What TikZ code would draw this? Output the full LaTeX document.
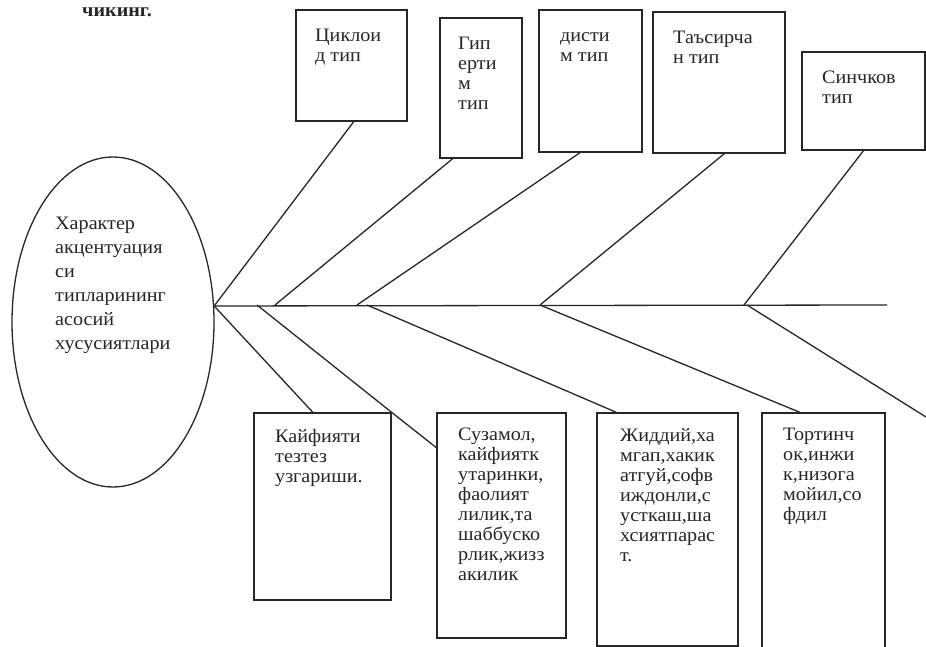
\documentclass[tikz,border=0pt]{standalone}
\usepackage{fontspec}
\setmainfont{Liberation Serif}
\newfontfamily\boxfont[FakeStretch=1.06]{Liberation Serif}
\usetikzlibrary{shapes.geometric,calc}
\begin{document}
\begin{tikzpicture}[x=1pt,y=-1pt,
  ln/.style={draw=black!85,line width=1.3pt},
  box/.style={ln,rectangle,inner sep=0pt},
  txt/.style={anchor=north west,inner sep=0pt,align=left,text=black!85,
    font=\boxfont\fontsize{19}{20}\selectfont},
  etxt/.style={anchor=north west,inner sep=0pt,align=left,text=black!85,
    font=\boxfont\fontsize{19}{24}\selectfont}]
\useasboundingbox (0,0) rectangle (926,647);
\fill[white] (0,0) rectangle (926,647);

% heading fragment
\node[anchor=north west,inner sep=0pt,text=black!85,font=\boxfont\bfseries\fontsize{19}{20}\selectfont] (head) at (82,8) {чикинг.};

% ellipse
\node[ln,ellipse,minimum width=202,minimum height=330,inner sep=0pt] (el) at (113,322) {};
\node[etxt] (elt) at (55,217) {Характер\\акцентуация\\си\\типларининг\\асосий\\хусусиятлари};

% top boxes
\node[box,minimum width=111,minimum height=111] (c1) at (351.5,65.5) {};
\node[box,minimum width=82,minimum height=140] (c2) at (481,88) {};
\node[box,minimum width=103,minimum height=142] (c3) at (590.5,81) {};
\node[box,minimum width=132,minimum height=141] (c4) at (719,82.5) {};
\node[box,minimum width=123,minimum height=98] (c5) at (863.5,101) {};
\node[txt] (c1t) at (315,29) {Циклои\\д тип};
\node[txt] (c2t) at (458,37) {Гип\\ерти\\м\\тип};
\node[txt] (c3t) at (560,32) {дисти\\м тип};
\node[txt] (c4t) at (673,31) {Таъсирча\\н тип};
\node[txt] (c5t) at (822,71) {Синчков\\тип};

% bottom boxes
\node[box,minimum width=137,minimum height=187] (b1) at (322.5,506.5) {};
\node[box,minimum width=129,minimum height=225] (b2) at (501.5,525.5) {};
\node[box,minimum width=141,minimum height=233] (b3) at (667.5,529.5) {};
\node[box,minimum width=123,minimum height=254] (b4) at (823.5,540) {};
\node[txt] (b1t) at (275,429) {Кайфияти\\тезтез\\узгариши.};
\node[txt] (b2t) at (458,428) {Сузамол,\\кайфиятк\\утаринки,\\фаолият\\лилик,та\\шаббуско\\рлик,жизз\\акилик};
\node[txt] (b3t) at (620,428) {Жиддий,ха\\мгап,хакик\\атгуй,софв\\иждонли,с\\усткаш,ша\\хсиятпарас\\т.};
\node[txt] (b4t) at (783,428) {Тортинч\\ок,инжи\\к,низога\\мойил,со\\фдил};

% spine
\coordinate (s0) at (el.9.6);
\coordinate (s1) at (257,305);
\coordinate (s2) at (275,305);
\coordinate (s3) at (357,305);
\coordinate (s4) at (367,305);
\coordinate (s5) at (540,305);
\coordinate (s6) at (744,305);
\coordinate (s7) at (747,305);
\coordinate (send) at (887,305);
\coordinate (eend) at (926,417);
\draw[ln] (s0) -- (send);

% upper branches
\draw[ln] (s0) -- ($(c1.south west)!0.52!(c1.south east)$);
\draw[ln] (s2) -- ($(c2.south west)!0.16!(c2.south east)$);
\draw[ln] (s3) -- ($(c3.south west)!0.40!(c3.south east)$);
\draw[ln] (s5) -- ($(c4.south west)!0.54!(c4.south east)$);
\draw[ln] (s6) -- ($(c5.south west)!0.50!(c5.south east)$);

% lower branches
\draw[ln] (s0) -- ($(b1.north west)!0.43!(b1.north east)$);
\draw[ln] (s1) -- (b1.north east) -- ($(b2.north west)!0.156!(b2.south west)$);
\draw[ln] (s4) -- ($(b3.north west)!0.14!(b3.north east)$);
\draw[ln] (s5) -- ($(b4.north west)!0.31!(b4.north east)$);
\draw[ln] (s7) -- (eend);
\end{tikzpicture}
\end{document}
